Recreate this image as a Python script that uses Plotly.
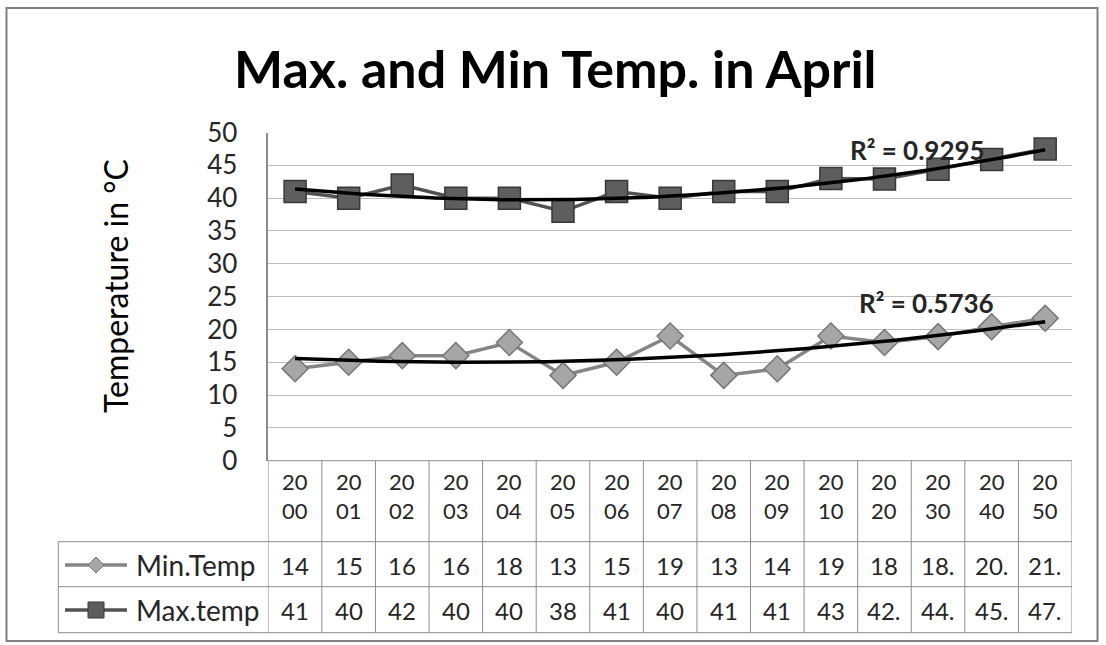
import numpy as np
import plotly.graph_objects as go

# ---- data ----
years = ["2000", "2001", "2002", "2003", "2004", "2005", "2006", "2007",
         "2008", "2009", "2010", "2020", "2030", "2040", "2050"]
min_temp = [14, 15, 16, 16, 18, 13, 15, 19, 13, 14, 19, 18, 18.9, 20.4, 21.7]
max_temp = [41, 40, 42, 40, 40, 38, 41, 40, 41, 41, 43, 42.9, 44.4, 45.9, 47.5]
r2_min_text = "R² = 0.5736"
r2_max_text = "R² = 0.9295"
y_ticks = [0, 5, 10, 15, 20, 25, 30, 35, 40, 45, 50]

W, H = 1106, 645
FONT = "Lato, 'Open Sans', sans-serif"
TXT = "#262626"


# pixel layout helpers
def px(x):
    return x / W


def py(y):
    return 1 - y / H


PLOT_L, PLOT_R = 268.3, 1072.0
PLOT_T, PLOT_B = 132.5, 460.7
ROW_HDR_BOT, ROW_MIN_BOT, ROW_MAX_BOT = 541.7, 586.7, 632.7
LEG_L = 58.3
MIN_ROW_Y, MAX_ROW_Y = 565, 610

MIN_LINE, MIN_FILL, MIN_EDGE = "#858585", "#a6a6a6", "#767676"
MAX_LINE, MAX_FILL, MAX_EDGE = "#525252", "#5e5e5e", "#383838"

xi = np.arange(len(years))

fig = go.Figure()

# Series lines
fig.add_trace(go.Scatter(
    x=xi, y=min_temp, mode="lines+markers", name="Min.Temp",
    line=dict(color=MIN_LINE, width=3.5),
    marker=dict(symbol="diamond", size=20, color=MIN_FILL,
                line=dict(color=MIN_EDGE, width=1.5)),
    showlegend=False))
fig.add_trace(go.Scatter(
    x=xi, y=max_temp, mode="lines+markers", name="Max.temp",
    line=dict(color=MAX_LINE, width=3.5),
    marker=dict(symbol="square", size=22, color=MAX_FILL,
                line=dict(color=MAX_EDGE, width=1.5)),
    showlegend=False))

# Polynomial (order 2) trend lines
xf = np.linspace(0, len(years) - 1, 200)
for series in (min_temp, max_temp):
    coef = np.polyfit(xi + 1, series, 2)
    fig.add_trace(go.Scatter(
        x=xf, y=np.polyval(coef, xf + 1), mode="lines",
        line=dict(color="#000000", width=3.5), hoverinfo="skip",
        showlegend=False))

shapes = []
annotations = []

# Outer chart border
shapes.append(dict(type="rect", xref="paper", yref="paper",
                   x0=px(6.5), x1=px(1097.5), y0=py(641), y1=py(8),
                   line=dict(color="#808080", width=2)))

# Data table grid
grid = dict(color="#8c8c8c", width=1)
for yy in (PLOT_B, ROW_HDR_BOT, ROW_MIN_BOT, ROW_MAX_BOT):
    x0 = PLOT_L if yy == PLOT_B else LEG_L
    shapes.append(dict(type="line", xref="paper", yref="paper",
                       x0=px(x0), x1=px(PLOT_R), y0=py(yy), y1=py(yy), line=grid))
for k in range(len(years) + 1):
    shapes.append(dict(type="line", xref="x", yref="paper",
                       x0=k - 0.5, x1=k - 0.5, y0=py(ROW_MAX_BOT), y1=py(PLOT_B),
                       line=grid))
shapes.append(dict(type="line", xref="paper", yref="paper",
                   x0=px(LEG_L), x1=px(LEG_L), y0=py(ROW_MAX_BOT), y1=py(ROW_HDR_BOT),
                   line=grid))


def cell_text(v):
    # whole numbers print plainly; fractional values are clipped by the narrow cell
    return str(int(v)) if float(v).is_integer() else str(v)[:3]


cell_font = dict(family=FONT, size=24, color=TXT)
hdr_font = dict(family=FONT, size=22, color=TXT)
for k, yr in enumerate(years):
    annotations.append(dict(x=k, y=py(496), xref="x", yref="paper",
                            text=yr[:2] + "<br>" + yr[2:],
                            showarrow=False, font=hdr_font, xanchor="center", yanchor="middle"))
    annotations.append(dict(x=k, y=py(MIN_ROW_Y), xref="x", yref="paper", text=cell_text(min_temp[k]),
                            showarrow=False, font=cell_font, xanchor="center", yanchor="middle"))
    annotations.append(dict(x=k, y=py(MAX_ROW_Y), xref="x", yref="paper", text=cell_text(max_temp[k]),
                            showarrow=False, font=cell_font, xanchor="center", yanchor="middle"))


def diamond_path(cx, cy, r):
    return (f"M {px(cx - r)},{py(cy)} L {px(cx)},{py(cy - r)} "
            f"L {px(cx + r)},{py(cy)} L {px(cx)},{py(cy + r)} Z")


def square_path(cx, cy, r):
    return (f"M {px(cx - r)},{py(cy - r)} L {px(cx + r)},{py(cy - r)} "
            f"L {px(cx + r)},{py(cy + r)} L {px(cx - r)},{py(cy + r)} Z")


# Legend keys inside the table
for name, yy, col, fill, edge, path in (
        ("Min.Temp", MIN_ROW_Y, MIN_LINE, MIN_FILL, MIN_EDGE, diamond_path(96, MIN_ROW_Y, 8)),
        ("Max.temp", MAX_ROW_Y, MAX_LINE, MAX_FILL, MAX_EDGE, square_path(96, MAX_ROW_Y, 8))):
    shapes.append(dict(type="line", xref="paper", yref="paper",
                       x0=px(65), x1=px(127), y0=py(yy), y1=py(yy),
                       line=dict(color=col, width=3.5)))
    shapes.append(dict(type="path", xref="paper", yref="paper", path=path,
                       fillcolor=fill, line=dict(color=edge, width=1)))
    annotations.append(dict(x=px(134), y=py(yy), xref="paper", yref="paper", text=name,
                            showarrow=False, font=dict(family=FONT, size=28, color=TXT),
                            xanchor="left", yanchor="middle"))

# Title, axis title, R² labels
annotations.append(dict(x=px(555), y=py(68), xref="paper", yref="paper",
                        text="<b>Max. and Min Temp. in April</b>", showarrow=False,
                        font=dict(family=FONT, size=52, color="#000000"),
                        xanchor="center", yanchor="middle"))
annotations.append(dict(x=px(115), y=py(286), xref="paper", yref="paper",
                        text="Temperature in °C", showarrow=False, textangle=-90,
                        font=dict(family=FONT, size=32, color="#000000"),
                        xanchor="center", yanchor="middle"))
annotations.append(dict(x=11.62, y=47.4, xref="x", yref="y", text=f"<b>{r2_max_text}</b>",
                        showarrow=False, font=dict(family=FONT, size=26, color=TXT),
                        xanchor="center", yanchor="middle"))
annotations.append(dict(x=11.79, y=24.1, xref="x", yref="y", text=f"<b>{r2_min_text}</b>",
                        showarrow=False, font=dict(family=FONT, size=26, color=TXT),
                        xanchor="center", yanchor="middle"))

fig.update_layout(
    width=W, height=H, margin=dict(l=0, r=0, t=0, b=0, pad=0, autoexpand=False),
    paper_bgcolor="white", plot_bgcolor="white",
    xaxis=dict(domain=[px(PLOT_L), px(PLOT_R)], range=[-0.5, len(years) - 0.5],
               showticklabels=False, showgrid=False, zeroline=False, showline=False,
               automargin=False, fixedrange=True),
    yaxis=dict(domain=[py(PLOT_B), py(PLOT_T)], range=[0, 50], tickvals=y_ticks,
               showgrid=True, gridcolor="#bdbdbd", gridwidth=1, zeroline=False,
               showline=True, linecolor="#8c8c8c", linewidth=1.5,
               ticks="outside", ticklen=0, ticklabelstandoff=24, automargin=False,
               tickfont=dict(family=FONT, size=26, color=TXT), fixedrange=True),
    shapes=shapes, annotations=annotations,
    showlegend=False,
)

fig.write_html("out.html")
